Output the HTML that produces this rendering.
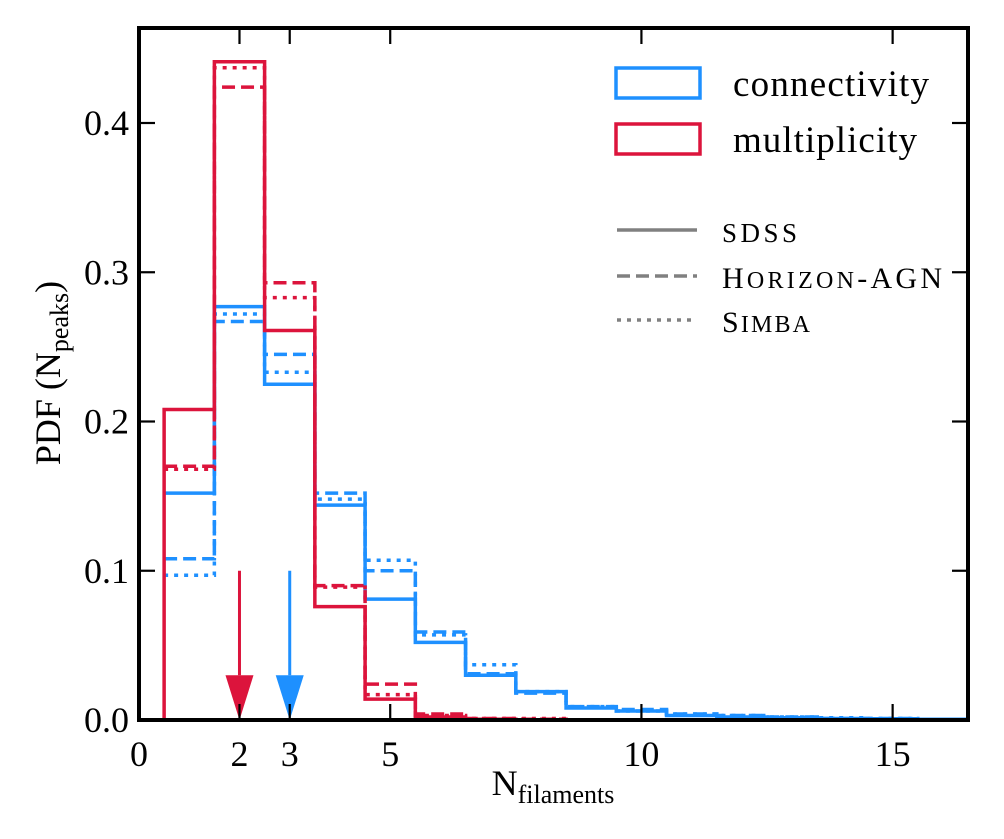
<!DOCTYPE html>
<html><head><meta charset="utf-8"><style>
body{margin:0;background:#fff}
svg{display:block;font-family:"Liberation Serif",serif}
</style></head><body>
<svg id="chart" width="1004" height="839" viewBox="0 0 1004 839" xmlns="http://www.w3.org/2000/svg">
<g id="marks"></g>
<g id="axes"></g>
<g id="legend">
<rect x="616" y="68" width="84" height="30" fill="none" stroke="#1e90ff" stroke-width="3.5"/>
<text x="733" y="96" font-size="37" textLength="196">connectivity</text>
<rect x="616" y="124" width="84" height="30" fill="none" stroke="#dc143c" stroke-width="3.5"/>
<text x="733" y="152" font-size="37" textLength="184">multiplicity</text>
<line x1="617" y1="230" x2="697" y2="230" stroke="#808080" stroke-width="3.5"/>
<text x="722" y="242" font-size="27" textLength="75">SDSS</text>
<line x1="617" y1="276" x2="697" y2="276" stroke="#808080" stroke-width="3.5" stroke-dasharray="13,6"/>
<text x="722" y="288" font-size="30" textLength="220">H<tspan font-size="24">ORIZON</tspan>-AGN</text>
<line x1="617" y1="320" x2="697" y2="320" stroke="#808080" stroke-width="3.5" stroke-dasharray="4,6"/>
<text x="722" y="332" font-size="30" textLength="88">S<tspan font-size="24">IMBA</tspan></text>
</g>
</svg>
<script>
const binCenters=[1,2,3,4,5,6,7,8,9,10,11,12,13,14,15,16];
const connSDSS=[0.152,0.277,0.225,0.144,0.081,0.052,0.030,0.019,0.008,0.006,0.003,0.002,0.0015,0.001,0.0008,0.0005];
const connHorizon=[0.108,0.267,0.245,0.152,0.100,0.059,0.031,0.018,0.009,0.007,0.004,0.003,0.002,0.001,0.001,0.0005];
const connSimba=[0.097,0.272,0.233,0.148,0.107,0.057,0.037,0.019,0.009,0.006,0.004,0.003,0.002,0.0015,0.001,0.0005];
const multSDSS=[0.208,0.441,0.261,0.076,0.014,0.002,0.0005,0,0,0,0,0,0,0,0,0];
const multHorizon=[0.170,0.424,0.293,0.090,0.024,0.004,0.001,0.0005,0,0,0,0,0,0,0,0];
const multSimba=[0.168,0.437,0.283,0.089,0.017,0.003,0.001,0.001,0,0,0,0,0,0,0,0];
const xTicks=[0,2,3,5,10,15];
const yTicks=[0,0.1,0.2,0.3,0.4];
const arrowX=[2,3];

const L=139,R=968,T=28,B=720,XMAX=16.5,YMAX=(720-28)/1492.5;
const X=v=>L+v/XMAX*(R-L);
const Y=v=>B-v/YMAX*(B-T);
const NS="http://www.w3.org/2000/svg";
function mk(tag,attrs,parent){const e=document.createElementNS(NS,tag);for(const k in attrs)e.setAttribute(k,attrs[k]);parent.appendChild(e);return e;}
const marks=document.getElementById('marks'),axes=document.getElementById('axes');
function step(vals,color,dash,name,closeLeft){
  let d="";
  vals.forEach((v,i)=>{const x0=X(binCenters[i]-0.5),x1=X(binCenters[i]+0.5);
    if(i===0) d+=closeLeft?`M${x0},${Y(0)}L${x0},${Y(v)}`:`M${x0},${Y(v)}`; else d+=`L${x0},${Y(v)}`;
    d+=`L${x1},${Y(v)}`;});
  const p=mk('path',{d:d,fill:'none',stroke:color,'stroke-width':3.5,'stroke-dasharray':dash},marks);
  
  
}
const BL='#1e90ff',RD='#dc143c';
step(connSimba,BL,'4,6','connectivity-simba',false);
step(connHorizon,BL,'13,6','connectivity-horizon',false);
step(connSDSS,BL,'none','connectivity-sdss',false);
step(multSimba,RD,'4,6','multiplicity-simba',false);
step(multHorizon,RD,'13,6','multiplicity-horizon',false);
step(multSDSS,RD,'none','multiplicity-sdss',true);
[[arrowX[0],RD,'median-multiplicity-arrow'],[arrowX[1],BL,'median-connectivity-arrow']].forEach(([v,c,n])=>{
  const g=mk('g',{},marks);
  
  
  const x=X(v);
  mk('line',{x1:x,y1:Y(0.1),x2:x,y2:Y(0.03),stroke:c,'stroke-width':3},g);
  mk('polygon',{points:`${x-14},${Y(0.03)} ${x+14},${Y(0.03)} ${x},${Y(0)}`,fill:c},g);
});
const fr=mk('rect',{x:L,y:T,width:R-L,height:B-T,fill:'none',stroke:'#000','stroke-width':4},axes);


xTicks.forEach(v=>{const x=X(v);
  mk('line',{x1:x,y1:B,x2:x,y2:B-16,stroke:'#000','stroke-width':2.2},axes);
  mk('line',{x1:x,y1:T,x2:x,y2:T+16,stroke:'#000','stroke-width':2.2},axes);
  const t=mk('text',{x:x,y:B+46,'font-size':36,'text-anchor':'middle'},axes);t.textContent=v;
  
  
});
yTicks.forEach(v=>{const y=Y(v);
  mk('line',{x1:L,y1:y,x2:L+16,y2:y,stroke:'#000','stroke-width':2.2},axes);
  mk('line',{x1:R,y1:y,x2:R-16,y2:y,stroke:'#000','stroke-width':2.2},axes);
  const t=mk('text',{x:L-10,y:y+12,'font-size':36,'text-anchor':'end'},axes);t.textContent=v.toFixed(1);
  
  
});
const xl=mk('text',{x:553,y:795,'font-size':36,'text-anchor':'middle'},axes);
xl.innerHTML='N<tspan font-size="26" dy="8">filaments</tspan>';


const yl=mk('text',{x:0,y:0,'font-size':36,'text-anchor':'middle',transform:'translate(60,373) rotate(-90)'},axes);
yl.innerHTML='PDF (N<tspan font-size="26" dy="8">peaks</tspan><tspan dy="-8">)</tspan>';


</script>
</body></html>
